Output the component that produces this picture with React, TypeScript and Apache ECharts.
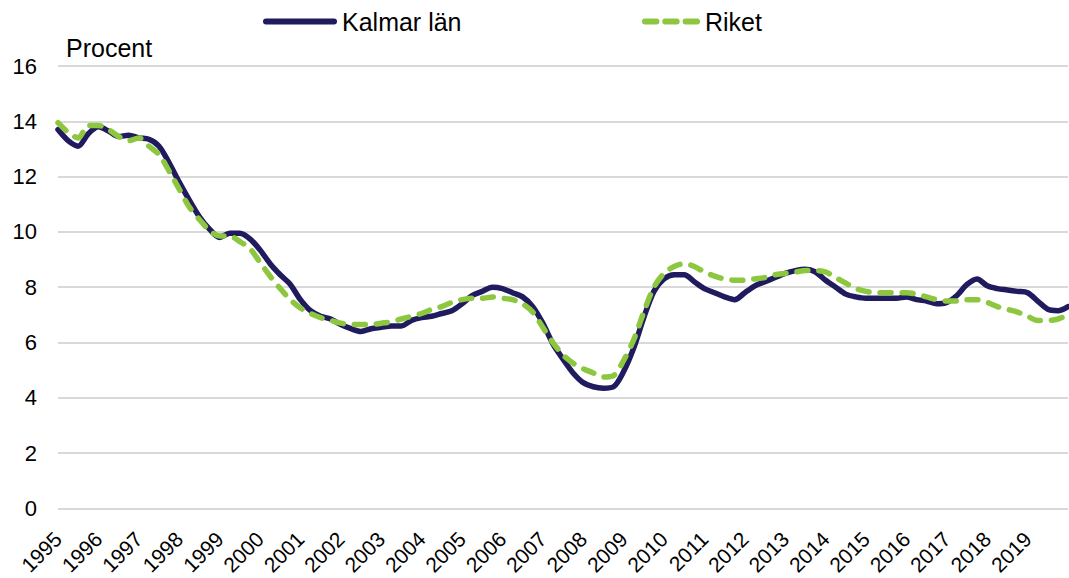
import React, { useEffect, useRef } from "react";
import * as echarts from "echarts";

const years = ["1995","1996","1997","1998","1999","2000","2001","2002","2003","2004","2005","2006","2007","2008","2009","2010","2011","2012","2013","2014","2015","2016","2017","2018","2019","2020"];
const quarters = ["K1", "K2", "K3", "K4"];

// Quarterly values, 1995 K1 .. 2020 K1
const kalmar = [
  13.7, 13.3, 13.1, 13.55, 13.8, 13.65, 13.45, 13.5, 13.4, 13.35,
  13.1, 12.5, 11.8, 11.15, 10.55, 10.1, 9.8, 9.95, 9.95, 9.75,
  9.35, 8.85, 8.45, 8.1, 7.55, 7.15, 6.95, 6.85, 6.65, 6.5,
  6.4, 6.5, 6.55, 6.6, 6.6, 6.8, 6.9, 6.95, 7.05, 7.15,
  7.4, 7.7, 7.85, 8.0, 7.95, 7.8, 7.65, 7.3, 6.7, 5.95,
  5.4, 4.9, 4.55, 4.4, 4.35, 4.4, 4.95, 5.8, 6.9, 7.85,
  8.3, 8.45, 8.45, 8.2, 7.95, 7.8, 7.65, 7.55, 7.8, 8.05,
  8.2, 8.35, 8.5, 8.6, 8.65, 8.55, 8.25, 8.0, 7.75, 7.65,
  7.6, 7.6, 7.6, 7.6, 7.65, 7.55, 7.5, 7.4, 7.45, 7.7,
  8.1, 8.3, 8.05, 7.95, 7.9, 7.85, 7.8, 7.5, 7.2, 7.15,
  7.3
];

const riket = [
  13.95, 13.6, 13.4, 13.85, 13.85, 13.7, 13.45, 13.3, 13.4, 13.1,
  12.8, 12.2, 11.55, 10.9, 10.45, 10.05, 9.85, 9.85, 9.65, 9.4,
  8.9, 8.4, 7.95, 7.55, 7.25, 7.05, 6.9, 6.8, 6.7, 6.65,
  6.65, 6.65, 6.7, 6.75, 6.85, 6.95, 7.05, 7.2, 7.3, 7.45,
  7.55, 7.6, 7.6, 7.65, 7.6, 7.55, 7.4, 7.1, 6.55, 6.0,
  5.55, 5.25, 5.05, 4.9, 4.75, 4.8, 5.35, 6.1, 7.1, 8.0,
  8.5, 8.75, 8.85, 8.75, 8.55, 8.4, 8.3, 8.25, 8.25, 8.3,
  8.35, 8.45, 8.5, 8.55, 8.6, 8.6, 8.55, 8.35, 8.15, 7.95,
  7.85, 7.8, 7.8, 7.8, 7.8, 7.75, 7.65, 7.55, 7.5, 7.5,
  7.55, 7.55, 7.45, 7.3, 7.2, 7.1, 6.95, 6.8, 6.8, 6.85,
  7.0
];

const yTicks = { min: 0, max: 16, interval: 2 };

const FONT = "'Liberation Sans', Arial, sans-serif";
const NAVY = "#1f1b5e";
const GREEN = "#8dc63f";

const solidIcon = "path://M3,0H71A3,3,0,0,1,71,6H3A3,3,0,0,1,3,0Z";
const dashIcon =
  "path://M3,0H15A3,3,0,0,1,15,6H3A3,3,0,0,1,3,0Z M24,0H36A3,3,0,0,1,36,6H24A3,3,0,0,1,24,0Z M45,0H57A3,3,0,0,1,57,6H45A3,3,0,0,1,45,0Z";

export default function App() {
  const ref = useRef<HTMLDivElement>(null);
  useEffect(() => {
    if (!ref.current) return;
    const chart = echarts.init(ref.current, undefined, { renderer: "svg" });
    const categories: string[] = [];
    years.forEach((y) => quarters.forEach((q) => categories.push(y + " " + q)));
    const cats = categories.slice(0, kalmar.length);
    const lastYearIdx = (years.length - 1) * 4;
    chart.setOption({
      animation: false,
      backgroundColor: "#ffffff",
      textStyle: { fontFamily: FONT },
      grid: { left: 58, right: 1, top: 66, bottom: 69, containLabel: false },
      legend: [
        {
          data: [{ name: "Kalmar län", icon: solidIcon }],
          left: 258,
          top: 4,
          itemWidth: 74,
          itemHeight: 6,
          textStyle: { fontSize: 25, color: "#000", fontFamily: FONT },
        },
        {
          data: [{ name: "Riket", icon: dashIcon }],
          left: 637,
          top: 4,
          itemWidth: 58,
          itemHeight: 6,
          textStyle: { fontSize: 25, color: "#000", fontFamily: FONT },
        },
      ],
      graphic: [
        {
          type: "text",
          left: 66,
          top: 35,
          style: { text: "Procent", fontSize: 25, fill: "#000", fontFamily: FONT },
        },
      ],
      xAxis: {
        type: "category",
        data: cats,
        boundaryGap: false,
        axisLine: { show: false },
        axisTick: { show: false },
        splitLine: { show: false },
        axisLabel: {
          interval: (index: number) => index % 4 === 0 && index < lastYearIdx,
          formatter: (v: string) => v.slice(0, 4),
          rotate: 45,
          margin: 27,
          fontSize: 21,
          color: "#000",
          fontFamily: FONT,
        },
      },
      yAxis: {
        type: "value",
        min: yTicks.min,
        max: yTicks.max,
        interval: yTicks.interval,
        axisLine: { show: false },
        axisTick: { show: false },
        axisLabel: { fontSize: 22, color: "#000", margin: 21, fontFamily: FONT },
        splitLine: { lineStyle: { color: "#d9d9d9", width: 2 } },
      },
      series: [
        {
          name: "Kalmar län",
          type: "line",
          data: kalmar,
          smooth: 0.3,
          symbol: "none",
          lineStyle: { color: NAVY, width: 5.5, cap: "round", join: "round" },
          itemStyle: { color: NAVY },
          z: 2,
        },
        {
          name: "Riket",
          type: "line",
          data: riket,
          smooth: 0.3,
          symbol: "none",
          lineStyle: { color: GREEN, width: 5.5, type: [11, 11], cap: "round", join: "round" },
          itemStyle: { color: GREEN },
          z: 3,
        },
      ],
    });
    return () => chart.dispose();
  }, []);
  return (
    <div
      ref={ref}
      style={{ position: "absolute", left: 0, top: 0, width: 1069, height: 578 }}
    />
  );
}
